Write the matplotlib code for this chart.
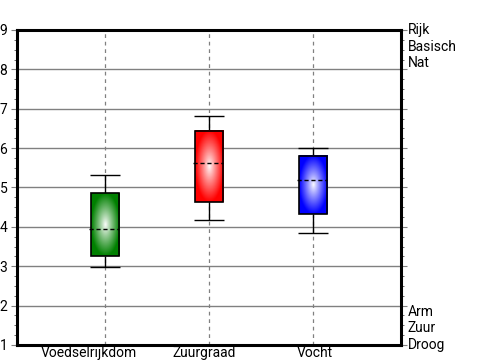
import numpy as np
import matplotlib
matplotlib.use('Agg')
import matplotlib.pyplot as plt
from matplotlib.patches import Rectangle
from matplotlib.ticker import MultipleLocator
import matplotlib.colors as mcolors
import matplotlib.transforms as mtransforms

plt.rcParams['font.family'] = ['Roboto', 'DejaVu Sans']

# data
categories = ['Voedselrijkdom', 'Zuurgraad', 'Vocht']
box_colors = ['#008000', '#ff0000', '#0000ff']
whisker_low = [2.97, 4.17, 3.84]
q1 = [3.27, 4.62, 4.32]
median = [3.94, 5.61, 5.19]
q3 = [4.85, 6.44, 5.80]
whisker_high = [5.32, 6.81, 6.00]
top_labels = ['Rijk', 'Basisch', 'Nat']
bottom_labels = ['Arm', 'Zuur', 'Droog']

fig = plt.figure(figsize=(5, 3.6), dpi=100)
ax = fig.add_axes([0.034, 0.0417, 0.768, 0.875])

positions = np.arange(1, len(categories) + 1)
box_w = 0.27
cap_w = 0.28


def gradient_box(ax, x, y0, y1, color):
    # radial gradient: white centre, full colour at the edges
    u = np.linspace(-1, 1, 60)
    v = np.linspace(-1, 1, 120)
    U, V = np.meshgrid(u, v)
    d = np.clip(np.sqrt(U ** 2 + V ** 2), 0, 1) ** 0.9
    c = np.array(mcolors.to_rgb(color))
    img = (1 - d[..., None]) * np.ones(3) + d[..., None] * c
    ax.imshow(img, extent=(x - box_w / 2, x + box_w / 2, y0, y1),
              aspect='auto', interpolation='bilinear', zorder=3)
    ax.add_patch(Rectangle((x - box_w / 2, y0), box_w, y1 - y0, fill=False,
                           edgecolor='black', lw=1.2, zorder=4))


for i, x in enumerate(positions):
    ax.axvline(x, color='#808080', ls=(0, (3, 3)), lw=0.9, zorder=1)
    ax.vlines(x, whisker_low[i], q1[i], color='black', lw=1, zorder=2)
    ax.vlines(x, q3[i], whisker_high[i], color='black', lw=1, zorder=2)
    ax.hlines([whisker_low[i], whisker_high[i]], x - cap_w / 2, x + cap_w / 2,
              color='black', lw=1, zorder=2)
    gradient_box(ax, x, q1[i], q3[i], box_colors[i])
    ax.hlines(median[i], x - box_w / 2 - 0.02, x + box_w / 2,
              color='black', lw=1, ls=(0, (3, 2)), zorder=5)

for yv in range(2, 9):
    ax.axhline(yv, color='#808080', lw=1, zorder=0.5)

ax.set_xlim(0.155, 3.845)
ax.set_ylim(1, 9)
ax.set_xticks(positions)
ax.set_xticklabels(categories, fontsize=10)
ax.set_yticks(range(1, 10))
ax.set_yticklabels([str(v) for v in range(1, 10)], fontsize=10)
ax.yaxis.set_minor_locator(MultipleLocator(0.25))
ax.tick_params(axis='x', length=0, pad=1)
ax.tick_params(axis='y', which='major', length=4, color='#808080', pad=3,
               right=True)
ax.tick_params(axis='y', which='minor', length=2, color='#555555', right=True)
for s in ax.spines.values():
    s.set_linewidth(2.2)

# the original labels sit a little left of their ticks
label_shift_px = [-16, -5, 2]
for lab, dx in zip(ax.get_xticklabels(), label_shift_px):
    lab.set_transform(lab.get_transform() +
                      mtransforms.ScaledTranslation(dx / 100, 0, fig.dpi_scale_trans))

trans = ax.get_yaxis_transform()
for j, lab in enumerate(top_labels):
    ax.text(1.018, 9 - j * 0.42, lab, transform=trans, fontsize=10,
            va='center', ha='left')
for j, lab in enumerate(bottom_labels):
    ax.text(1.018, 1 + (2 - j) * 0.42, lab, transform=trans, fontsize=10,
            va='center', ha='left')

fig.savefig('out.png', dpi=100)
